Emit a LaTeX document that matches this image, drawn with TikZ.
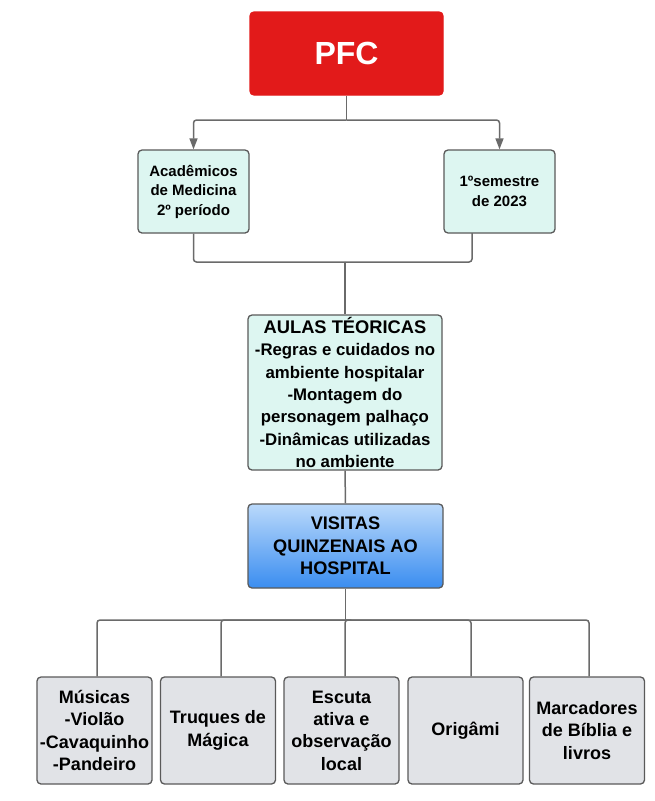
\documentclass[tikz,border=0pt]{standalone}
\usepackage{fontspec}
\setmainfont{Liberation Sans}
\usetikzlibrary{arrows.meta}
\definecolor{pfcred}{HTML}{E21A1A}
\definecolor{mint}{HTML}{DDF6F1}
\definecolor{boxgray}{HTML}{E1E3E7}
\definecolor{edge}{HTML}{5A5A5A}
\definecolor{wire}{HTML}{6A6A6A}
\definecolor{bluetop}{HTML}{BAD9FB}
\definecolor{bluebot}{HTML}{3A8DF0}
\tikzset{
  x=1pt, y=-1pt,
  basebox/.style={draw=edge, line width=1.3pt, rounded corners=4pt, inner sep=0pt, align=center, font=\bfseries},
  redbox/.style={basebox, draw=pfcred, fill=pfcred, text=white, minimum width=193pt, minimum height=83pt, font=\bfseries\fontsize{32}{36}\selectfont},
  mintbox/.style={basebox, fill=mint, minimum width=111pt, minimum height=83pt, font=\bfseries\fontsize{15}{19.5}\selectfont},
  aulabox/.style={basebox, fill=mint, minimum width=194pt, minimum height=155pt, font=\bfseries\fontsize{16.8}{22.3}\selectfont},
  bluebox/.style={basebox, top color=bluetop, bottom color=bluebot, minimum width=195pt, minimum height=84pt, font=\bfseries\fontsize{18.2}{22.5}\selectfont},
  graybox/.style={basebox, fill=boxgray, minimum width=115pt, minimum height=107pt, font=\bfseries\fontsize{18}{22.4}\selectfont},
  wireline/.style={draw=wire, line width=1.5pt, rounded corners=3pt},
  arrowline/.style={wireline, -{Triangle[length=11pt,width=8pt]}}
}
\begin{document}
\begin{tikzpicture}
\useasboundingbox (0,0) rectangle (654,801);
\fill[white] (0,0) rectangle (654,801);

\node[redbox] (pfc) at (346.5,53.5) {PFC};
\node[mintbox] (acad) at (193.5,191.5) {Acadêmicos\\de Medicina\\2º período};
\node[mintbox] (sem) at (499.5,191.5) {1ºsemestre\\de 2023};
\node[aulabox] (aulas) at (345,392.5) {{\fontsize{18.3}{22.3}\selectfont AULAS TÉORICAS}\\-Regras e cuidados no\\ambiente hospitalar\\-Montagem do\\personagem palhaço\\-Dinâmicas utilizadas\\no ambiente};
\node[bluebox] (visitas) at (345.5,546) {VISITAS\\QUINZENAIS AO\\HOSPITAL};

\node[graybox] (mus) at (94.5,730.5) {Músicas\\-Violão\\-Cavaquinho\\-Pandeiro};
\node[graybox] (truq) at (218,730.5) {Truques de\\Mágica};
\node[graybox] (esc) at (341.5,730.5) {Escuta\\ativa e\\observação\\local};
\node[graybox] (ori) at (465.5,730.5) {Origâmi};
\node[graybox] (marc) at (587,730.5) {Marcadores\\de Bíblia e\\livros};

% top split
\coordinate (split1) at (346.5,120);
\draw[wireline] (pfc.south) -- (split1);
\draw[arrowline] (split1) -| (acad.north);
\draw[arrowline] (split1) -| (sem.north);

% merge
\coordinate (semout) at (472,233);
\coordinate (merge) at (345,262);
\draw[wireline] (acad.south) |- (merge);
\draw[wireline] (semout) |- (merge);
\draw[wireline] (merge) -- (aulas.north);

\draw[wireline] (aulas.south) -- (visitas.north);

% bottom split
\coordinate (split2) at (345.5,620);
\draw[wireline] (visitas.south) -- (split2);
\draw[wireline] (split2) -| ([xshift=2.5pt]mus.north);
\draw[wireline] (split2) -| ([xshift=3pt]truq.north);
\draw[wireline] (split2) -| ([xshift=3.5pt]esc.north);
\draw[wireline] (split2) -| ([xshift=5.5pt]ori.north);
\draw[wireline] (split2) -| ([xshift=2pt]marc.north);
\end{tikzpicture}
\end{document}
